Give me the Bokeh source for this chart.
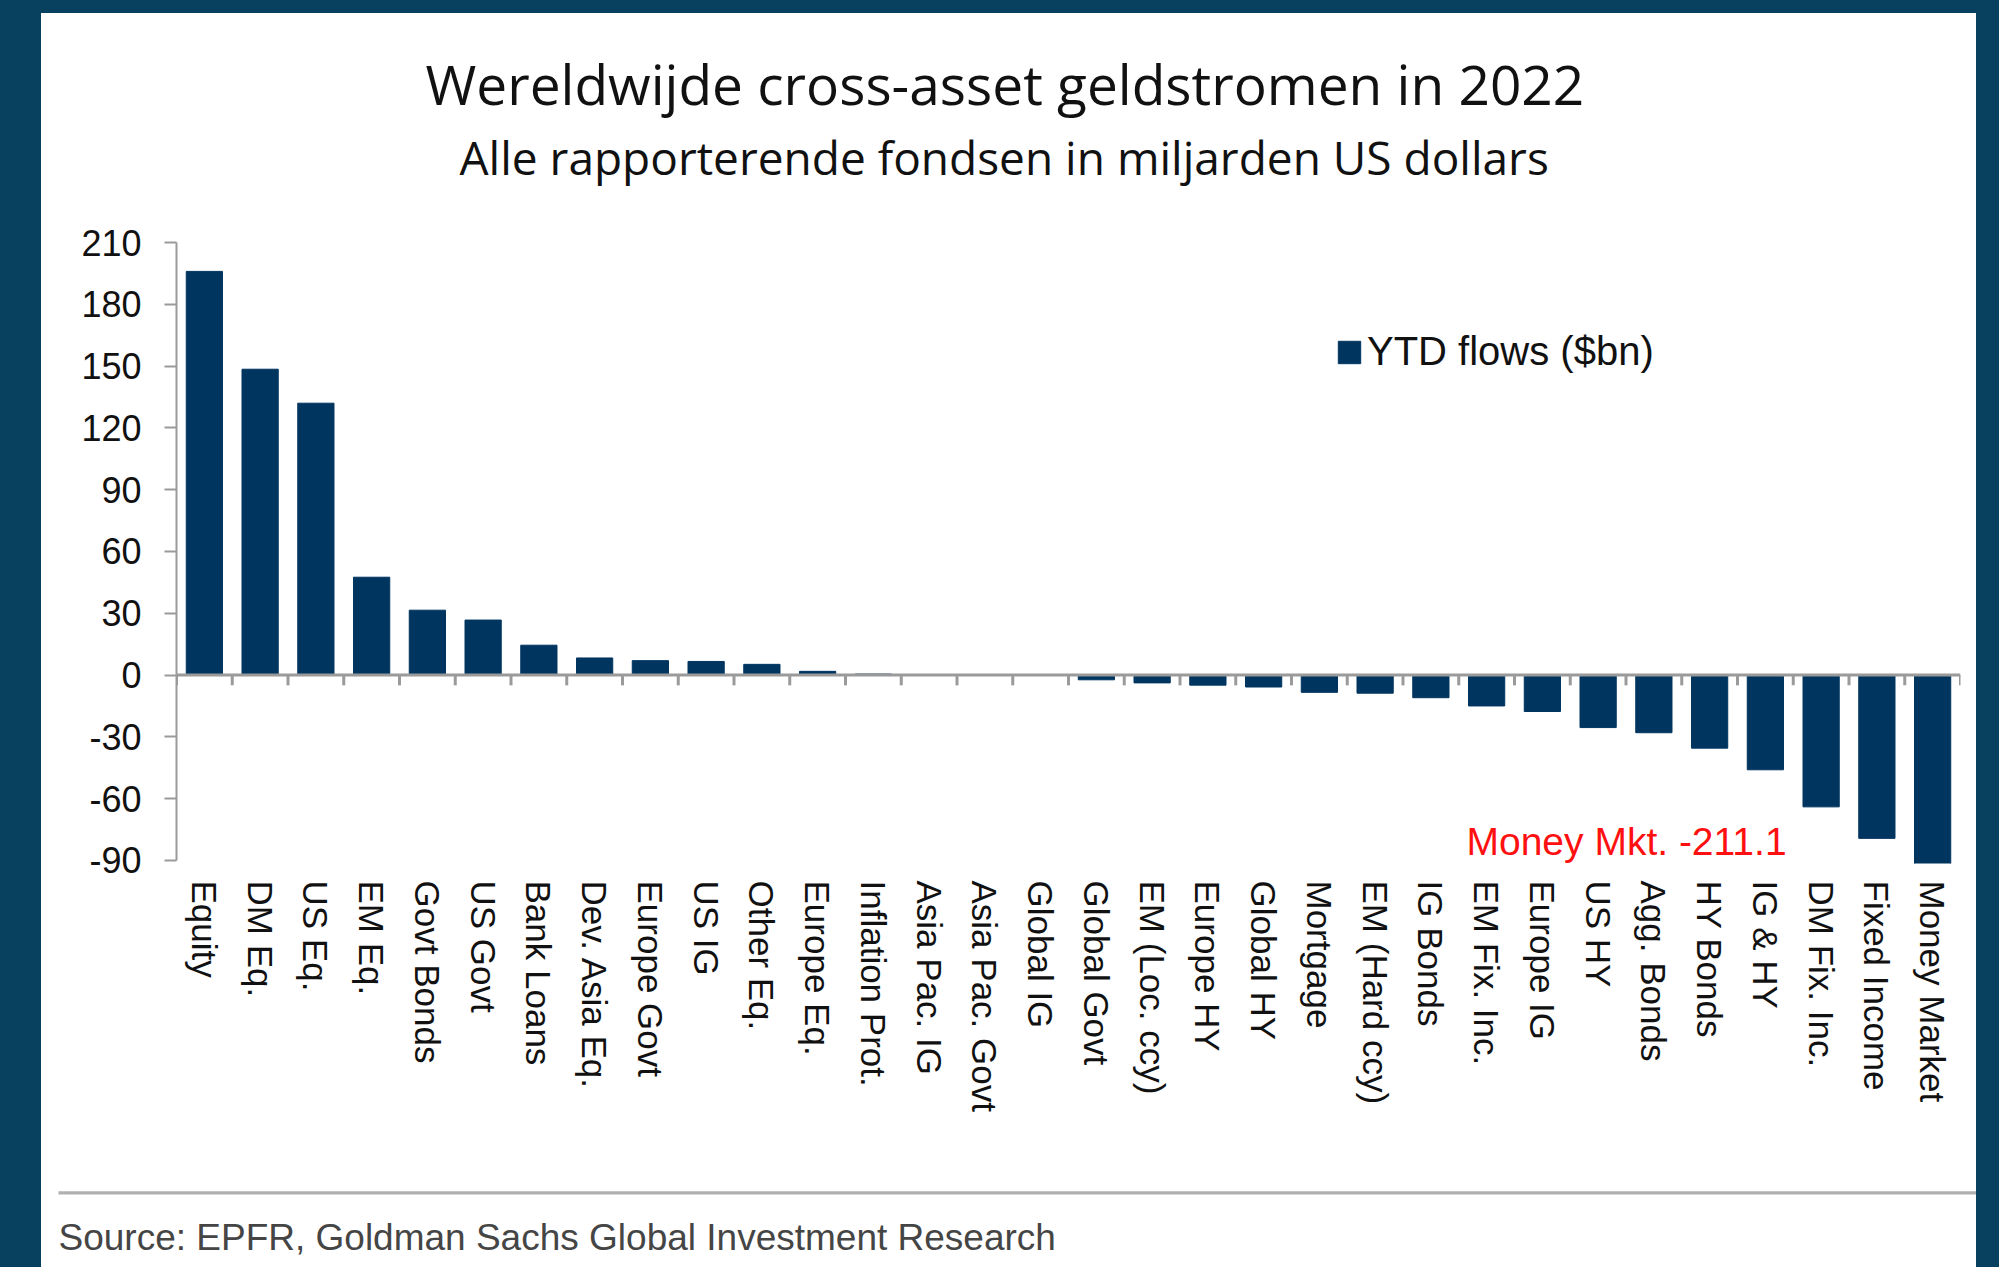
from bokeh.plotting import figure
from bokeh.models import (Range1d, FactorRange, FixedTicker, Span, Label, Legend,
                          LegendItem, Spacer, Title)
from bokeh.layouts import column, row
from bokeh.embed import file_html
from bokeh.resources import INLINE

# ---------------- data ----------------
categories = ["Equity", "DM Eq.", "US Eq.", "EM Eq.", "Govt Bonds", "US Govt", "Bank Loans",
              "Dev. Asia Eq.", "Europe Govt", "US IG", "Other Eq.", "Europe Eq.",
              "Inflation Prot.", "Asia Pac. IG", "Asia Pac. Govt", "Global IG", "Global Govt",
              "EM (Loc. ccy)", "Europe HY", "Global HY", "Mortgage", "EM (Hard ccy)",
              "IG Bonds", "EM  Fix. Inc.", "Europe IG", "US HY", "Agg.  Bonds", "HY Bonds",
              "IG & HY", "DM Fix. Inc.", "Fixed Income", "Money Market"]
ytd_flows = [196.0, 148.5, 132.0, 47.5, 31.5, 26.7, 14.5,
             8.3, 7.0, 6.6, 5.2, 1.8,
             0.5, 0.0, 0.0, 0.0, -2.3,
             -3.8, -4.9, -5.8, -8.4, -8.8,
             -11.0, -15.0, -17.7, -25.5, -28.0, -35.5,
             -46.0, -64.0, -79.3, -211.1]
y_ticks = [-90, -60, -30, 0, 30, 60, 90, 120, 150, 180, 210]
series_name = "YTD flows ($bn)"
title_text = "Wereldwijde cross-asset geldstromen in 2022"
subtitle_text = "Alle rapporterende fondsen in miljarden US dollars"
source_text = "Source: EPFR, Goldman Sachs Global Investment Research"

# ---------------- style ----------------
DARK = "#07415f"
BAR = "#003560"
AXIS = "#9a9a9a"
ARIAL = "Liberation Sans"

W = 1935
H = 1254

p = figure(x_range=FactorRange(factors=categories), y_range=Range1d(-91.5, 211),
           width=W, height=H, output_backend="svg", toolbar_location=None,
           min_border_left=135, min_border_right=16, min_border_top=227,
           min_border_bottom=404, styles={"background-color": "white"})
p.outline_line_color = None
p.background_fill_color = "white"
p.border_fill_color = "white"
p.xgrid.visible = False
p.ygrid.visible = False

bars = p.vbar(x=categories, top=ytd_flows, width=0.65, fill_color=BAR, line_color=BAR)

# zero line with boundary ticks
p.add_layout(Span(location=0, dimension="width", line_color=AXIS, line_width=3))
bounds_x = [[c, -0.5] for c in categories] + [[categories[-1], 0.5]]
p.segment(x0=bounds_x, y0=[0] * len(bounds_x), x1=bounds_x, y1=[-5.0] * len(bounds_x),
          line_color=AXIS, line_width=3)

# y axis
yax = p.yaxis[0]
yax.ticker = FixedTicker(ticks=y_ticks)
yax.major_label_overrides = {t: str(t) for t in y_ticks}
yax.bounds = (y_ticks[0], y_ticks[-1])
yax.axis_line_color = AXIS
yax.axis_line_width = 2
yax.major_tick_line_color = AXIS
yax.major_tick_line_width = 2
yax.major_tick_out = 12
yax.major_tick_in = 0
yax.minor_tick_line_color = None
yax.major_label_text_font = ARIAL
yax.major_label_text_font_size = "36px"
yax.major_label_text_color = "#111111"
yax.major_label_standoff = 23

# x axis (labels only); an empty axis label reserves room above the separator
xax = p.xaxis[0]
xax.axis_line_color = None
xax.major_tick_line_color = None
xax.major_tick_out = 0
xax.major_tick_in = 0
xax.major_label_orientation = "vertical"
xax.major_label_text_font = ARIAL
xax.major_label_text_font_size = "35px"
xax.major_label_text_color = "#111111"
xax.major_label_standoff = 17
xax.axis_label = " "
xax.axis_label_text_font_size = "1px"
xax.axis_label_standoff = 54

# legend
legend = Legend(items=[LegendItem(label=series_name, renderers=[bars])],
                location=(1159, 489), orientation="vertical",
                border_line_color=None, background_fill_alpha=0,
                padding=0, margin=0, spacing=0,
                glyph_width=28, glyph_height=28, label_standoff=4,
                label_text_font=ARIAL, label_text_font_size="40px",
                label_text_color="#111111")
p.add_layout(legend)

# annotation for the clipped bar
p.add_layout(Label(x=1290, y=1, x_units="screen", y_units="screen",
                   text=f"Money Mkt. {ytd_flows[-1]}", text_color="#ff1010",
                   text_font=ARIAL, text_font_size="39px",
                   text_align="left", text_baseline="bottom"))

# titles (above, nearest to the frame first)
p.add_layout(Title(text=" ", align="left", standoff=48,
                   text_font=ARIAL, text_font_size="1px"), "above")
p.add_layout(Title(text=subtitle_text, align="left", offset=283, standoff=4,
                   text_font="Open Sans", text_font_size="46px",
                   text_font_style="normal", text_color="#111111"), "above")
p.add_layout(Title(text=title_text, align="left", offset=249, standoff=2,
                   text_font="Open Sans", text_font_size="55px",
                   text_font_style="normal", text_color="#111111"), "above")

# separator bar and source (below, after the category labels)
p.add_layout(Title(text=" ", align="left", offset=-118, standoff=32,
                   text_font=ARIAL, text_font_size="2px",
                   background_fill_color="#b0b0b0",
                   padding=(1, 1990, 1, 0)), "below")
p.add_layout(Title(text=source_text, align="left", offset=-118, standoff=9,
                   text_font=ARIAL, text_font_size="37px",
                   text_font_style="normal", text_color="#454545"), "below")

page = row(Spacer(width=41, height=13 + H),
           column(Spacer(width=W, height=13), p, spacing=0),
           Spacer(width=23, height=13 + H), spacing=0,
           styles={"background-color": DARK})

open("out.html", "w").write(file_html(page, INLINE))
